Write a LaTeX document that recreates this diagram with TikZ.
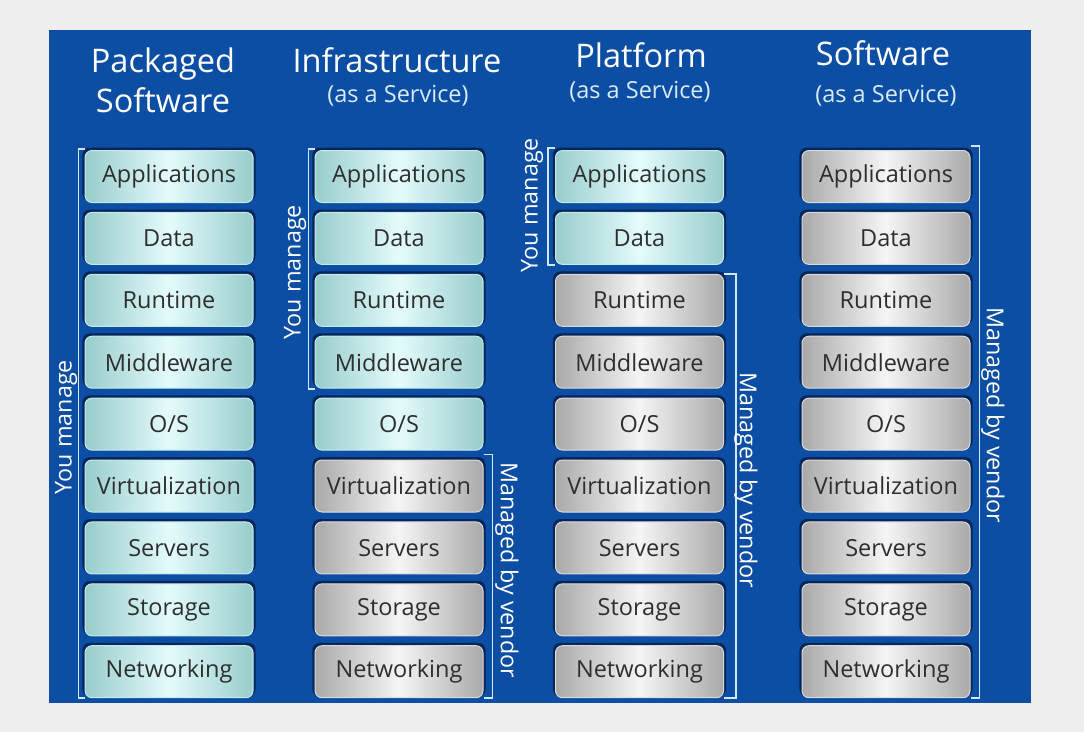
\documentclass[tikz,border=0pt]{standalone}
\usepackage{fontspec}
\setmainfont{Open Sans}
\usetikzlibrary{shadows}
\definecolor{bg}{HTML}{EEEEEE}
\definecolor{panel}{HTML}{0B4EA3}
\definecolor{tealedge}{HTML}{98CCCC}
\definecolor{tealmid}{HTML}{E4FBFB}
\definecolor{tealrim}{HTML}{C4ECEC}
\definecolor{grayedge}{HTML}{A9A9A9}
\definecolor{graymid}{HTML}{F5F5F5}
\definecolor{grayrim}{HTML}{DADADA}
\definecolor{shadowc}{HTML}{06265A}
\definecolor{brk}{HTML}{D2E8FA}
\definecolor{subt}{HTML}{DCEBFA}
\begin{document}
\begin{tikzpicture}[x=1pt,y=-1pt,
  layer/.style={minimum width=168pt, minimum height=52pt, rounded corners=7pt,
    inner sep=0pt, font=\fontsize{23.5}{26}\selectfont, text=black!82, line width=1pt,
    general shadow={fill=shadowc, shadow scale=1.03, shadow yshift=2pt}},
  mine/.style={layer, left color=tealedge, right color=tealedge, middle color=tealmid, draw=tealrim},
  vendor/.style={layer, left color=grayedge, right color=grayedge, middle color=graymid, draw=grayrim},
  title/.style={text=white, font=\fontsize{32.5}{36}\selectfont, anchor=base, inner sep=0pt},
  subtitle/.style={text=subt, font=\fontsize{23.5}{26}\selectfont, anchor=base, inner sep=0pt},
  bracket/.style={draw=brk, line width=1.6pt},
  side/.style={text=white, font=\fontsize{23.3}{26}\selectfont, inner sep=0pt}]
\useasboundingbox (0,0) rectangle (1084,732);
\fill[bg] (0,0) rectangle (1084,732);
\fill[panel] (49,30) rectangle (1031,703);
% titles
\node[title] (t1a) at (163,72) {Packaged};
\node[title] (t1b) at (163,112) {Software};
\node[title] (t2a) at (397,72) {Infrastructure};
\node[subtitle] (t2b) at (398,102) {(as a Service)};
\node[title] (t3a) at (641,67) {Platform};
\node[subtitle] (t3b) at (640,98) {(as a Service)};
\node[title] (t4a) at (883,65) {Software};
\node[subtitle] (t4b) at (886,102) {(as a Service)};
% layers
\foreach \lbl [count=\i] in {Applications,Data,Runtime,Middleware,O/S,Virtualization,Servers,Storage,Networking}{
  \pgfmathsetmacro{\yy}{176.5+61.9*(\i-1)}
  \node[mine] (c1-\i) at (169,\yy) {\lbl};
  \ifnum\i<6 \def\stA{mine}\else\def\stA{vendor}\fi
  \node[\stA] (c2-\i) at (399,\yy) {\lbl};
  \ifnum\i<3 \def\stB{mine}\else\def\stB{vendor}\fi
  \node[\stB] (c3-\i) at (639.5,\yy) {\lbl};
  \node[vendor] (c4-\i) at (886,\yy) {\lbl};
}
% brackets
\draw[bracket] ([yshift=1pt]c1-1.north west) -- ++(-6,0) |- (c1-9.south west);
\draw[bracket] ([yshift=1pt]c2-1.north west) -- ++(-6,0) |- (c2-4.south west);
\draw[bracket] ([yshift=5pt]c2-6.north east) -- ++(9,0) |- (c2-9.south east);
\draw[bracket] ([yshift=2pt]c3-1.north west) -- ++(-7,0) |- (c3-2.south west);
\draw[bracket] (c3-3.north east) -- ++(12,0) |- (c3-9.south east);
\draw[bracket] ([yshift=4pt]c4-1.north east) -- ++(9,0) |- (c4-9.south east);
% side labels
\node[side, rotate=90] (y1) at (66,427) {You manage};
\node[side, rotate=90] (y2) at (295,272) {You manage};
\node[side, rotate=90] (y3) at (532,205) {You manage};
\node[side, rotate=-90] (v2) at (507,570) {Managed by vendor};
\node[side, rotate=-90] (v3) at (746,480) {Managed by vendor};
\node[side, rotate=-90] (v4) at (993,415) {Managed by vendor};
\end{tikzpicture}
\end{document}
